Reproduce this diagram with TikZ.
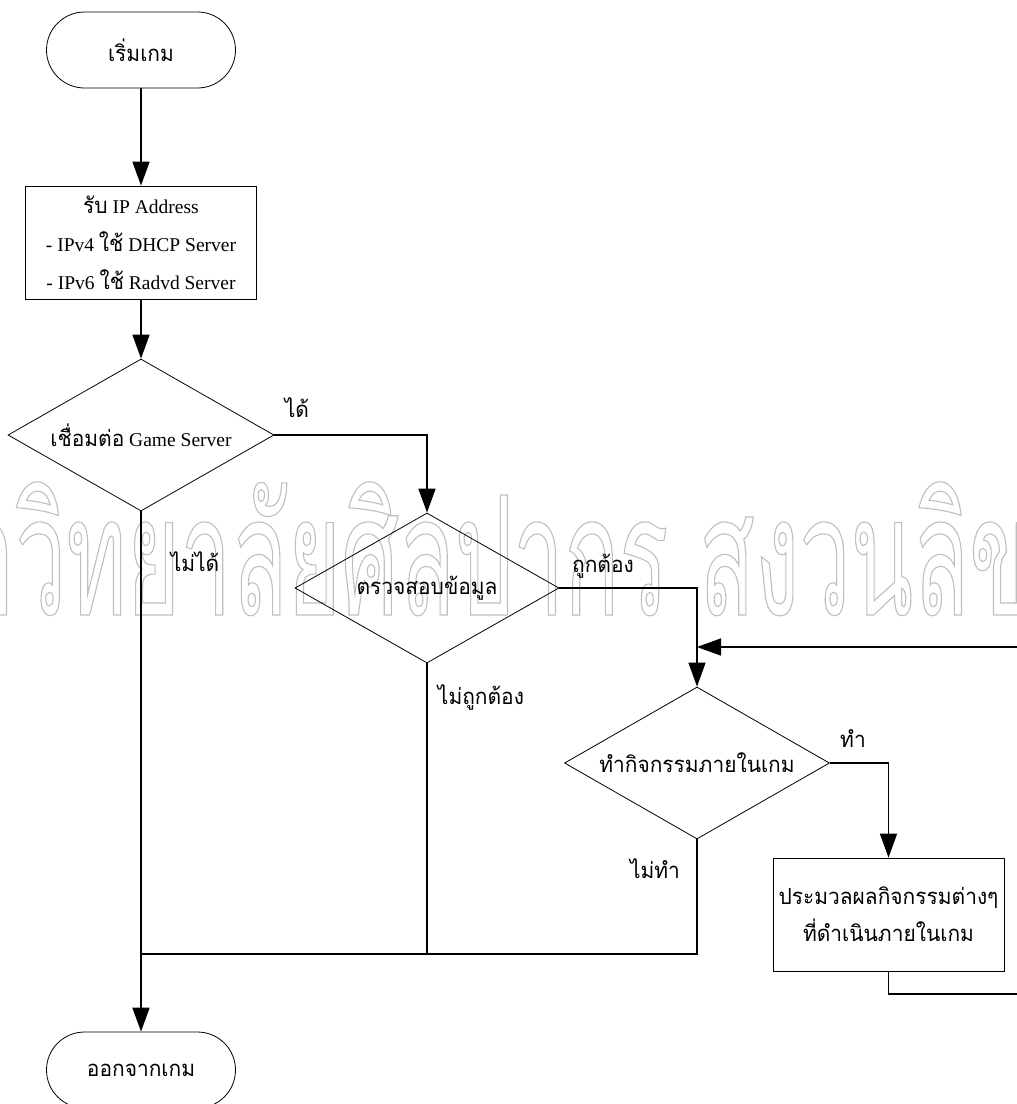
\documentclass[tikz,border=0pt]{standalone}
\usepackage{fontspec}
\setmainfont{Liberation Serif}
\newfontfamily\thai[Script=Thai,Scale=1.13,FakeStretch=0.95]{Loma}
\newfontfamily\wmfont[Script=Thai,FakeStretch=0.55]{Loma}
\usetikzlibrary{shapes.geometric,arrows.meta}
\newcommand{\thtxt}[1]{{\thai #1}}
\begin{document}
\begin{tikzpicture}[x=1pt,y=-1pt,
  outline/.style={draw=black,line width=0.8pt},
  term/.style={outline,rectangle,rounded corners=38pt,minimum width=189pt,minimum height=76pt,inner sep=0pt},
  procbox/.style={outline,rectangle,minimum width=231pt,minimum height=113pt,inner sep=0pt,align=center},
  decision/.style={outline,diamond,aspect=1.75,inner sep=0pt},
  flow/.style={line width=1.6pt},
  arrowflow/.style={flow,-{Triangle[length=24pt,width=17pt]}},
  txt/.style={font=\fontsize{19.5}{24}\selectfont},
  lbl/.style={inner sep=0pt,font=\thai\fontsize{19.5}{24}\selectfont},
]
\useasboundingbox (0,0) rectangle (1017,1104);
\clip (0,0) rectangle (1017,1104);

% watermark in outlined light grey letters
\node[anchor=base west,inner sep=0pt,text=black!25] (wm) at (15,615)
  {\wmfont\fontsize{166}{166}\selectfont\special{pdf:literal direct 1 Tr 1.1 w}\llap{มหา}วิทยาลัยศิลปากร สงวนลิขสิทธิ์\special{pdf:literal direct 0 Tr}};

% shapes
\node[term,txt] (start) at (141,50) {\thtxt{เริ่มเกม}};
\node[procbox,font=\fontsize{19.5}{38}\selectfont] (ip) at (141,242.5)
  {\thtxt{รับ} IP Address\\- IPv4 \thtxt{ใช้} DHCP Server\\- IPv6 \thtxt{ใช้} Radvd Server};
\node[decision,txt,minimum width=266pt,minimum height=152pt] (d1) at (141,435)
  {\thtxt{เชื่อมต่อ} Game Server};
\node[decision,txt,minimum width=264pt,minimum height=150pt] (d2) at (427,588)
  {\thtxt{ตรวจสอบข้อมูล}};
\node[decision,txt,minimum width=265pt,minimum height=152pt] (d3) at (697,763)
  {\thtxt{ทำกิจกรรมภายในเกม}};
\node[procbox,font=\thai\fontsize{19.5}{37}\selectfont] (proc) at (888.5,914.5)
  {ประมวลผลกิจกรรมต่างๆ\\ที่ดำเนินภายในเกม};
\node[term,txt] (stop) at (141,1070) {\thtxt{ออกจากเกม}};

% branch labels
\node[lbl] (yes1) at (297,408) {ได้};
\node[lbl] (no1) at (195,562) {ไม่ได้};
\node[lbl] (yes2) at (603,566) {ถูกต้อง};
\node[lbl] (no2) at (481,697) {ไม่ถูกต้อง};
\node[lbl] (yes3) at (853,739) {ทำ};
\node[lbl] (no3) at (655,869) {ไม่ทำ};

% helper points
\coordinate (merge) at (141,954);
\coordinate (loopB) at (1030,994);
\coordinate (loopT) at (1030,647);

% connectors
\draw[arrowflow] (start) -- (ip);
\draw[arrowflow] (ip) -- (d1);
\draw[arrowflow] (d1.east) -| (d2.north);
\draw[arrowflow] (d2.east) -| (d3.north);
\draw[arrowflow] (d3.east) -| (proc.north);
\draw[arrowflow] (proc.south) |- (loopB) -- (loopT) -- (d3.north |- loopT);
\draw[flow] (d3.south) |- (merge);
\draw[flow] (d2.south) -- (d2.south |- merge);
\draw[arrowflow] (d1.south) -- (stop.north);
\end{tikzpicture}
\end{document}
